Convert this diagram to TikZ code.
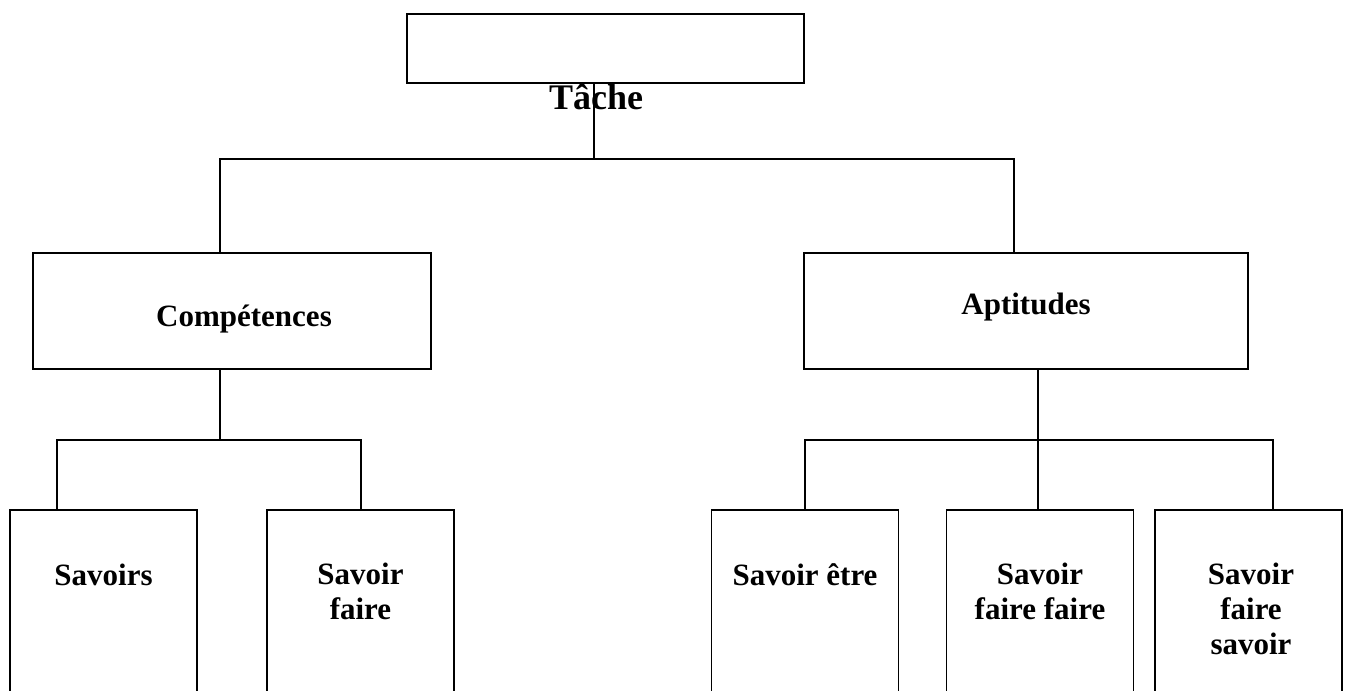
\documentclass[tikz,border=0pt]{standalone}
\usepackage{fontspec}
\setmainfont{Liberation Serif}
\begin{document}
\begin{tikzpicture}[x=0.75pt, y=-0.75pt,
    box/.style={draw, line width=1.3pt, inner sep=0pt},
    leafbox/.style={box, minimum width=140.25pt, minimum height=142.5pt},
    txt/.style={font=\fontsize{23.25}{26.25}\selectfont\bfseries, align=center, anchor=base, inner sep=0pt},
    link/.style={line width=1pt}]
    \useasboundingbox (0, 0) rectangle (1348, 691);
    \clip (0, 0) rectangle (1348, 691);
    \node[box, minimum width=297.75pt, minimum height=51.75pt] (tache) at (605.5, 48.5) {};
    \node[txt, font=\fontsize{27}{30}\selectfont\bfseries] (tacheT) at (596, 110) {Tâche};
    \node[box, minimum width=298.5pt, minimum height=87pt] (comp) at (232, 311) {};
    \node[txt] (compT) at (244, 327) {Compétences};
    \node[box, minimum width=333pt, minimum height=87pt] (apt) at (1026, 311) {};
    \node[txt] (aptT) at (1026, 315) {Aptitudes};
    \node[leafbox] (sav) at (103.5, 605) {};
    \node[txt] (savT) at (103.5, 585) {Savoirs};
    \node[leafbox] (savF) at (360.5, 605) {};
    \node[txt, anchor=north] (savFT) at (360.5, 563) {Savoir\\faire};
    \node[leafbox] (savE) at (805, 605) {};
    \node[txt] (savET) at (805, 585) {Savoir être};
    \node[leafbox] (savFF) at (1040, 605) {};
    \node[txt, anchor=north] (savFFT) at (1040, 563) {Savoir\\faire faire};
    \node[leafbox] (savFS) at (1248.5, 605) {};
    \node[txt, anchor=north] (savFST) at (1251, 563) {Savoir\\faire\\savoir};
    \coordinate (T0) at (594, 159);
    \coordinate (C0) at (220, 159);
    \coordinate (A0) at (1014, 159);
    \coordinate (C1) at (220, 440);
    \coordinate (S1) at (57, 440);
    \coordinate (S2) at (361, 440);
    \coordinate (A1) at (1038, 440);
    \coordinate (S3) at (805, 440);
    \coordinate (S4) at (1273, 440);
    \draw [link] (tache.south -| T0) to (T0);
    \draw [link] (C0 |- comp.north) to (C0) to (A0) to (A0 |- apt.north);
    \draw [link] (comp.south -| C1) to (C1);
    \draw [link] (S1 |- sav.north) to (S1) to (S2) to (S2 |- savF.north);
    \draw [link] (apt.south -| A1) to (A1);
    \draw [link] (S3 |- savE.north) to (S3) to (S4) to (S4 |- savFS.north);
    \draw [link] (A1) to (A1 |- savFF.north);
\end{tikzpicture}
\end{document}
